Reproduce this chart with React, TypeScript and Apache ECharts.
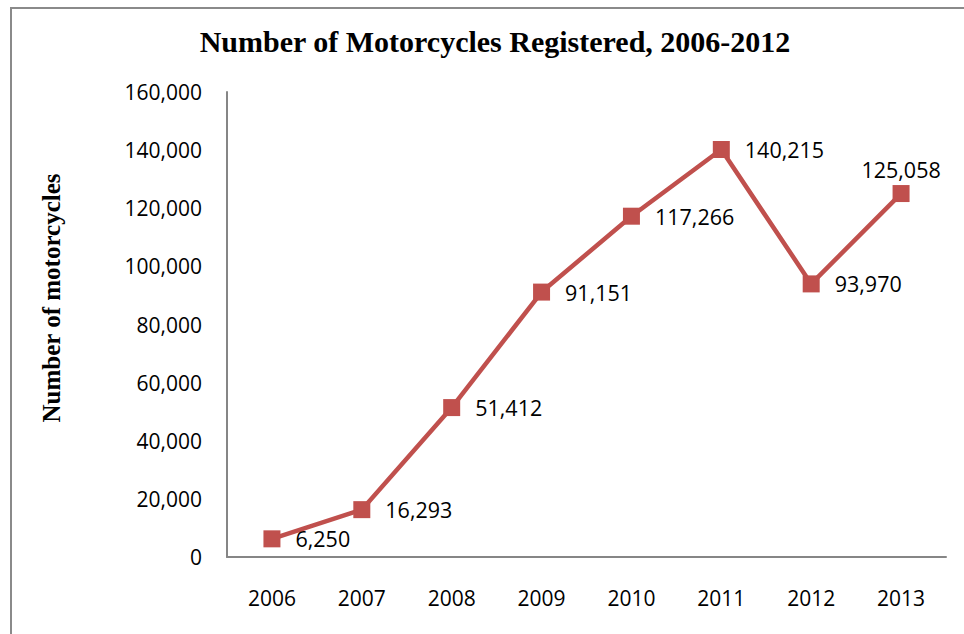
import React, { useEffect, useRef } from "react";
import * as echarts from "echarts";

const years = ["2006", "2007", "2008", "2009", "2010", "2011", "2012", "2013"];
const registered = [6250, 16293, 51412, 91151, 117266, 140215, 93970, 125058];
const labelPositions = ["right", "right", "right", "right", "right", "right", "right", "top"];

const RED = "#C0504D";
const AXIS = "#868686";
const LABEL_FONT = "'Open Sans', 'Noto Sans', sans-serif";
const SERIF = "'Liberation Serif', 'DejaVu Serif', serif";

export default function App() {
  const ref = useRef<HTMLDivElement>(null);
  useEffect(() => {
    if (!ref.current) return;
    const chart = echarts.init(ref.current, null, { renderer: "svg" });
    chart.setOption({
      animation: false,
      backgroundColor: "#ffffff",
      title: {
        text: "Number of Motorcycles Registered, 2006-2012",
        left: 490,
        textAlign: "center",
        top: 21,
        textStyle: { fontFamily: SERIF, fontWeight: "bold", fontSize: 30, color: "#000" },
      },
      graphic: [
        {
          type: "polyline",
          shape: { points: [[11, 700], [11, 8], [1000, 8]] },
          style: { fill: "none", stroke: "#8a8a8a", lineWidth: 2 },
          silent: true,
        },
        {
          type: "text",
          x: 51,
          y: 298,
          rotation: Math.PI / 2,
          style: {
            text: "Number of motorcycles",
            fontFamily: SERIF,
            fontWeight: "bold",
            fontSize: 25,
            fill: "#000",
            textAlign: "center",
            textVerticalAlign: "middle",
          },
          silent: true,
        },
      ],
      grid: { left: 227, top: 92, right: 18, bottom: 77, containLabel: false, show: false },
      xAxis: {
        type: "category",
        data: years,
        boundaryGap: true,
        axisLine: { lineStyle: { color: AXIS, width: 2 } },
        axisTick: { show: false },
        axisLabel: { margin: 30, fontSize: 21, color: "#000", fontFamily: LABEL_FONT },
        splitLine: { show: false },
      },
      yAxis: {
        type: "value",
        min: 0,
        max: 160000,
        interval: 20000,
        axisLine: { show: true, lineStyle: { color: AXIS, width: 2 } },
        axisTick: { show: false },
        splitLine: { show: false },
        axisLabel: {
          margin: 25,
          fontSize: 21,
          color: "#000",
          fontFamily: LABEL_FONT,
          formatter: (v: number) => v.toLocaleString("en-US"),
        },
      },
      series: [
        {
          type: "line",
          data: registered.map((v, i) => ({
            value: v,
            label: { position: labelPositions[i], distance: labelPositions[i] === "top" ? 5 : 15 },
          })),
          symbol: "rect",
          symbolSize: 17,
          lineStyle: { color: RED, width: 4.5 },
          itemStyle: { color: RED },
          label: {
            show: true,
            fontSize: 21.5,
            color: "#000",
            fontFamily: LABEL_FONT,
            formatter: (p: any) => Number(p.value).toLocaleString("en-US"),
          },
        },
      ],
    });
    return () => chart.dispose();
  }, []);
  return <div ref={ref} style={{ position: "absolute", left: 0, top: 0, width: 964, height: 634 }} />;
}
